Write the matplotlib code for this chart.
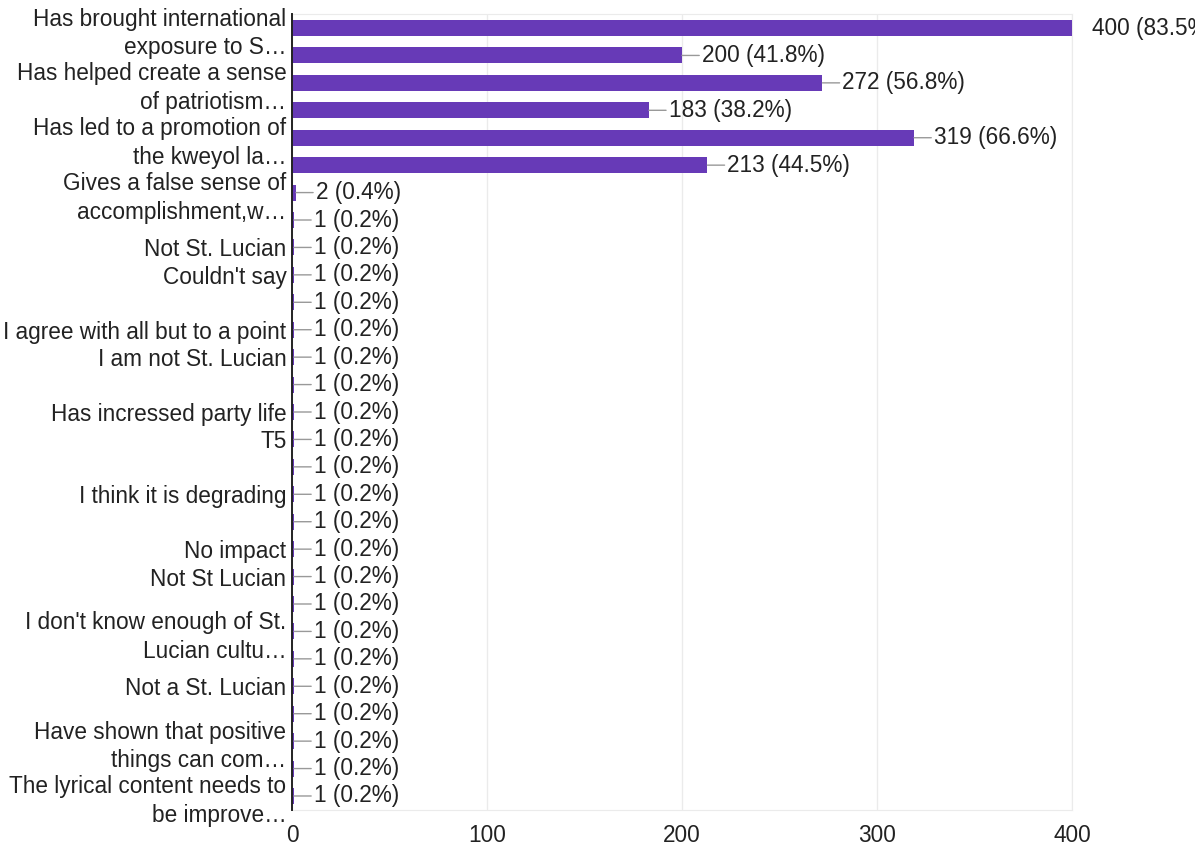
import matplotlib
matplotlib.use('Agg')
import matplotlib.pyplot as plt

# respostas (ordem do formulário); rótulos vazios ficam ocultos no eixo
categorias = [
    "Has brought international\nexposure to S…", "",
    "Has helped create a sense\nof patriotism…", "",
    "Has led to a promotion of\nthe kweyol la…", "",
    "Gives a false sense of\naccomplishment,w…", "",
    "Not St. Lucian", "Couldn't say", "",
    "I agree with all but to a point", "I am not St. Lucian", "",
    "Has incressed party life", "T5", "",
    "I think it is degrading", "",
    "No impact", "Not St Lucian", "",
    "I don't know enough of St.\nLucian cultu…", "",
    "Not a St. Lucian", "",
    "Have shown that positive\nthings can com…", "",
    "The lyrical content needs to\nbe improve…",
]
contagens = [400, 200, 272, 183, 319, 213, 2] + [1] * 22
total_respostas = 479
ticks_x = [0, 100, 200, 300, 400]

ROXO = '#673ab7'
TEXTO = '#222222'
TAM = 16.3
X_MAX = 400
plt.rcParams['font.family'] = ['Liberation Sans', 'DejaVu Sans']

fig = plt.figure(figsize=(11.95, 8.47), dpi=100)
ax = fig.add_axes([292 / 1195, 1 - 809.7 / 847, 780 / 1195, (809.7 - 14.3) / 847])

posicoes = list(range(len(contagens)))
ax.barh(posicoes, contagens, height=0.58, color=ROXO, zorder=3)

for y, v in zip(posicoes, contagens):
    pct = 100 * v / total_respostas
    # barra que chega ao fim do eixo fica sem traço guia
    seta = None if v >= X_MAX else dict(arrowstyle='-', color='#999999', lw=1,
                                        shrinkA=0, shrinkB=0)
    ax.annotate(f"{v} ({pct:.1f}%)", xy=(v, y), xytext=(14.4, 0),
                textcoords='offset points', ha='left', va='center',
                fontsize=TAM, color=TEXTO, annotation_clip=False,
                arrowprops=seta)

ax.set_xlim(0, X_MAX)
ax.set_ylim(len(contagens) - 0.5, -0.5)
ax.set_yticks(posicoes)
ax.set_yticklabels(categorias, fontsize=TAM, color=TEXTO, linespacing=1.31)
ax.set_xticks(ticks_x)
ax.set_xticklabels([str(t) for t in ticks_x], fontsize=TAM, color=TEXTO)
ax.tick_params(axis='both', length=0)
ax.tick_params(axis='x', pad=10)
ax.tick_params(axis='y', pad=4)

ax.grid(axis='x', color='#ebebeb', lw=1, zorder=0)
for lado in ['top', 'right', 'bottom']:
    ax.spines[lado].set_color('#ebebeb')
ax.spines['left'].set_color('#222222')
ax.spines['left'].set_linewidth(1.4)
ax.spines['left'].set_zorder(4)

fig.savefig('out.png', dpi=100)
